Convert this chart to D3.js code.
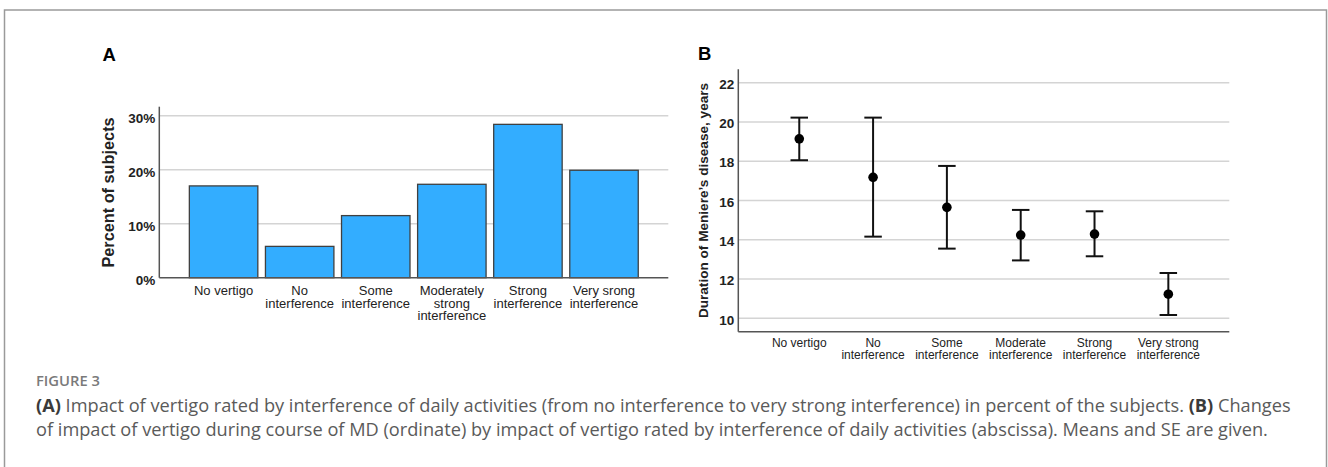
<!DOCTYPE html>
<html>
<head>
<meta charset="utf-8">
<script src="https://cdn.jsdelivr.net/npm/d3@7"></script>
<style>
  html, body { margin: 0; padding: 0; background: #fff; }
  svg { display: block; }
</style>
</head>
<body>
<svg id="chart" width="1328" height="467"></svg>
<script>
// ---------- Data ----------
const categoriesA = [
  ["No vertigo"],
  ["No", "interference"],
  ["Some", "interference"],
  ["Moderately", "strong", "interference"],
  ["Strong", "interference"],
  ["Very srong", "interference"]
];
const percentA = [17.0, 5.8, 11.5, 17.3, 28.4, 19.9];
const ticksA = [0, 10, 20, 30];

const categoriesB = [
  ["No vertigo"],
  ["No", "interference"],
  ["Some", "interference"],
  ["Moderate", "interference"],
  ["Strong", "interference"],
  ["Very strong", "interference"]
];
const meanB  = [19.14, 17.18, 15.65, 14.24, 14.29, 11.23];
const lowerB = [18.05, 14.16, 13.55, 12.95, 13.16, 10.17];
const upperB = [20.22, 20.22, 17.76, 15.52, 15.45, 12.31];
const ticksB = [10, 12, 14, 16, 18, 20, 22];

const captionLabel = "FIGURE 3";
const captionLine1 = [["(A)", true], [" Impact of vertigo rated by interference of daily activities (from no interference to very strong interference) in percent of the subjects. ", false], ["(B)", true], [" Changes", false]];
const captionLine2 = [["of impact of vertigo during course of MD (ordinate) by impact of vertigo rated by interference of daily activities (abscissa). Means and SE are given.", false]];

// ---------- Setup ----------
const svg = d3.select("#chart");
const FONT = "'Liberation Sans', Arial, sans-serif";
const GRID = "#d4d4d4";
const AXIS = "#555555";

// outer frame
svg.append("rect")
  .attr("x", 4.5).attr("y", 10).attr("width", 1322).attr("height", 520)
  .attr("fill", "none").attr("stroke", "#9a9a9a").attr("stroke-width", 1.5);

// ---------- Panel A ----------
const ax0 = 159.3, ax1 = 668.3, ayTop = 106.7, ayBot = 277.7;
const xA = d3.scaleBand().domain(d3.range(categoriesA.length))
  .range([ax0, ax1]).paddingInner(0.1).paddingOuter(0.395);
const yA = d3.scaleLinear().domain([0, 31.67]).range([ayBot, ayTop]);

const gA = svg.append("g");
gA.selectAll("line.grid").data(ticksA.filter(d => d > 0)).join("line")
  .attr("x1", ax0).attr("x2", ax1)
  .attr("y1", d => yA(d)).attr("y2", d => yA(d))
  .attr("stroke", GRID).attr("stroke-width", 1.5);

gA.selectAll("rect.bar").data(percentA).join("rect")
  .attr("x", (d, i) => xA(i))
  .attr("y", d => yA(d))
  .attr("width", xA.bandwidth())
  .attr("height", d => yA(0) - yA(d))
  .attr("fill", "#33adff")
  .attr("stroke", "#404040").attr("stroke-width", 1.3);

const yAxisA = d3.axisLeft(yA).tickValues(ticksA).tickSize(0).tickPadding(4)
  .tickFormat(d => d + "%");
const gyA = gA.append("g").attr("transform", `translate(${ax0},0)`).call(yAxisA);
gyA.select(".domain").remove();
gyA.selectAll("text").attr("font-family", FONT).attr("font-size", 13.5)
  .attr("font-weight", "bold").attr("fill", "#222").attr("dy", "0.5em");

gA.append("line").attr("x1", ax0).attr("x2", ax0).attr("y1", ayTop).attr("y2", ayBot)
  .attr("stroke", AXIS).attr("stroke-width", 1.5);
gA.append("line").attr("x1", ax0).attr("x2", ax1).attr("y1", ayBot).attr("y2", ayBot)
  .attr("stroke", AXIS).attr("stroke-width", 1.5);

gA.selectAll("text.xl").data(categoriesA).join("text")
  .attr("class", "xl")
  .attr("font-family", FONT).attr("font-size", 13).attr("fill", "#222")
  .attr("text-anchor", "middle")
  .each(function (lines, i) {
    const t = d3.select(this);
    lines.forEach((ln, k) => {
      t.append("tspan").attr("x", xA(i) + xA.bandwidth() / 2)
        .attr("y", 295 + k * 12.5).text(ln);
    });
  });

gA.append("text")
  .attr("transform", `translate(114,192.5) rotate(-90)`)
  .attr("text-anchor", "middle")
  .attr("font-family", FONT).attr("font-size", 16.3).attr("font-weight", "bold")
  .attr("fill", "#222").text("Percent of subjects");

gA.append("text").attr("x", 102.5).attr("y", 61)
  .attr("font-family", FONT).attr("font-size", 18.5).attr("font-weight", "bold")
  .attr("fill", "#000").text("A");

// ---------- Panel B ----------
const bx0 = 738.3, bx1 = 1229.3, byTop = 69.3, byBot = 331.7;
const xB = d3.scalePoint().domain(d3.range(categoriesB.length))
  .range([bx0, bx1]).padding(0.826);
const yB = d3.scaleLinear().domain([9.32, 22.68]).range([byBot, byTop]);

const gB = svg.append("g");
gB.selectAll("line.grid").data(ticksB).join("line")
  .attr("x1", bx0).attr("x2", bx1)
  .attr("y1", d => yB(d)).attr("y2", d => yB(d))
  .attr("stroke", GRID).attr("stroke-width", 1.5);

const yAxisB = d3.axisLeft(yB).tickValues(ticksB).tickSize(0).tickPadding(4);
const gyB = gB.append("g").attr("transform", `translate(${bx0},0)`).call(yAxisB);
gyB.select(".domain").remove();
gyB.selectAll("text").attr("font-family", FONT).attr("font-size", 13.5)
  .attr("font-weight", "bold").attr("fill", "#222").attr("dy", "0.42em");

gB.append("line").attr("x1", bx0).attr("x2", bx0).attr("y1", byTop).attr("y2", byBot)
  .attr("stroke", AXIS).attr("stroke-width", 1.5);
gB.append("line").attr("x1", bx0).attr("x2", bx1).attr("y1", byBot).attr("y2", byBot)
  .attr("stroke", AXIS).attr("stroke-width", 1.5);

const capW = 17.5;
const eb = gB.selectAll("g.eb").data(meanB.map((m, i) => ({ m, lo: lowerB[i], hi: upperB[i], i })))
  .join("g").attr("class", "eb");
eb.append("line")
  .attr("x1", d => xB(d.i)).attr("x2", d => xB(d.i))
  .attr("y1", d => yB(d.lo)).attr("y2", d => yB(d.hi))
  .attr("stroke", "#111").attr("stroke-width", 2);
eb.append("line")
  .attr("x1", d => xB(d.i) - capW / 2).attr("x2", d => xB(d.i) + capW / 2)
  .attr("y1", d => yB(d.hi)).attr("y2", d => yB(d.hi))
  .attr("stroke", "#111").attr("stroke-width", 2);
eb.append("line")
  .attr("x1", d => xB(d.i) - capW / 2).attr("x2", d => xB(d.i) + capW / 2)
  .attr("y1", d => yB(d.lo)).attr("y2", d => yB(d.lo))
  .attr("stroke", "#111").attr("stroke-width", 2);
eb.append("circle")
  .attr("cx", d => xB(d.i)).attr("cy", d => yB(d.m)).attr("r", 4.8)
  .attr("fill", "#000");

gB.selectAll("text.xl").data(categoriesB).join("text")
  .attr("class", "xl")
  .attr("font-family", FONT).attr("font-size", 12).attr("fill", "#222")
  .attr("text-anchor", "middle")
  .each(function (lines, i) {
    const t = d3.select(this);
    lines.forEach((ln, k) => {
      t.append("tspan").attr("x", xB(i)).attr("y", 346.5 + k * 12).text(ln);
    });
  });

gB.append("text")
  .attr("transform", `translate(708,200.5) rotate(-90)`)
  .attr("text-anchor", "middle")
  .attr("font-family", FONT).attr("font-size", 13.6).attr("font-weight", "bold")
  .attr("fill", "#222").text("Duration of Meniere\u2019s disease, years");

gB.append("text").attr("x", 698).attr("y", 60)
  .attr("font-family", FONT).attr("font-size", 18.5).attr("font-weight", "bold")
  .attr("fill", "#000").text("B");

// ---------- Caption ----------
const CAPFONT = "'Open Sans', Lato, sans-serif";
function fitText(sel, targetWidth) {
  const fs = +sel.attr("font-size");
  const w = sel.node().getComputedTextLength();
  if (w > 0) sel.attr("font-size", (fs * targetWidth / w).toFixed(2));
}
const fig = svg.append("text").attr("x", 36).attr("y", 386)
  .attr("font-family", CAPFONT).attr("font-size", 12).attr("font-weight", 600)
  .attr("fill", "#7a7a7a").text(captionLabel);
fitText(fig, 64);

function captionLine(parts, y) {
  const t = svg.append("text").attr("x", 36).attr("y", y)
    .attr("font-family", CAPFONT).attr("font-size", 16).attr("fill", "#5a5a5a");
  parts.forEach(([s, b]) => {
    t.append("tspan").attr("font-weight", b ? "bold" : "normal")
      .attr("fill", b ? "#3a3a3a" : "#5a5a5a").text(s);
  });
  return t;
}
const l1 = captionLine(captionLine1, 412);
const l2 = captionLine(captionLine2, 436);
const fs1 = +l1.attr("font-size");
const w1 = l1.node().getComputedTextLength();
const fsCap = fs1 * 1255 / w1;
l1.attr("font-size", fsCap.toFixed(2));
l2.attr("font-size", fsCap.toFixed(2));
</script>
</body>
</html>
